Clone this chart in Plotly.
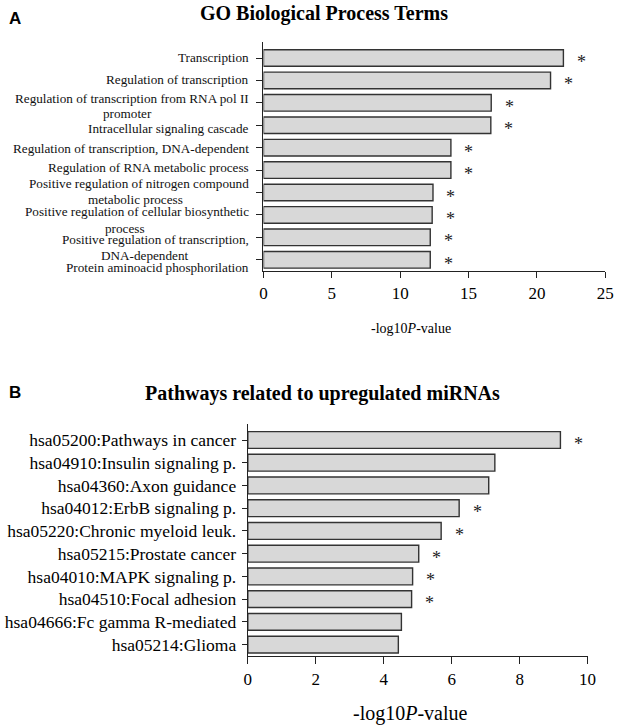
import plotly.graph_objects as go

# ---- Data: panel A (GO Biological Process Terms) ----
go_terms = [
    "Transcription",
    "Regulation of transcription",
    "Regulation of transcription from RNA pol II<br>promoter",
    "Intracellular signaling cascade",
    "Regulation of transcription, DNA-dependent",
    "Regulation of RNA metabolic process",
    "Positive regulation of nitrogen compound<br>metabolic process",
    "Positive regulation of cellular biosynthetic<br>process",
    "Positive regulation of transcription,<br>DNA-dependent",
    "Protein aminoacid phosphorilation",
]
go_values = [21.94, 21.0, 16.66, 16.63, 13.71, 13.71, 12.4, 12.34, 12.2, 12.2]
go_signif = [True] * 10
go_ticks = [0, 5, 10, 15, 20, 25]

# ---- Data: panel B (Pathways related to upregulated miRNAs) ----
kegg_terms = [
    "hsa05200:Pathways in cancer",
    "hsa04910:Insulin signaling p.",
    "hsa04360:Axon guidance",
    "hsa04012:ErbB signaling p.",
    "hsa05220:Chronic myeloid leuk.",
    "hsa05215:Prostate cancer",
    "hsa04010:MAPK signaling p.",
    "hsa04510:Focal adhesion",
    "hsa04666:Fc gamma R-mediated",
    "hsa05214:Glioma",
]
kegg_values = [9.2, 7.27, 7.09, 6.22, 5.69, 5.03, 4.85, 4.82, 4.52, 4.43]
kegg_signif = [True, False, False, True, True, True, True, True, False, False]
kegg_ticks = [0, 2, 4, 6, 8, 10]

# ---- layout / style (pixel geometry of the page) ----
W, H = 625, 727
SERIF = "Liberation Serif, Times New Roman, serif"
SANS = "Liberation Sans, Arial, sans-serif"
BAR_FILL = "#d8d8d8"
BAR_LINE = "#333333"
# vertical placement (px below the tick) of each text line of the panel-A labels
go_line_offsets = [[0], [-1], [-4, 11], [3], [1], [-3], [-9, 7], [-3, 14], [2, 18], [8]]


def px_x(x):
    return x / W


def px_y(y):
    return 1 - y / H


fig = go.Figure()

fig.add_trace(go.Bar(
    x=go_values, y=go_terms, orientation="h",
    marker=dict(color=BAR_FILL, line=dict(color=BAR_LINE, width=1.4)),
    width=0.74, xaxis="x", yaxis="y", showlegend=False, hoverinfo="x+y",
))
fig.add_trace(go.Bar(
    x=kegg_values, y=kegg_terms, orientation="h",
    marker=dict(color=BAR_FILL, line=dict(color=BAR_LINE, width=1.4)),
    width=0.74, xaxis="x2", yaxis="y2", showlegend=False, hoverinfo="x+y",
))

annotations = []
# category labels of panel A: each line centred on the first line's centre
LABEL_RIGHT = 252
for term, offs in zip(go_terms, go_line_offsets):
    lines = term.split("<br>")
    for i, (line, dy) in enumerate(zip(lines, offs)):
        if i == 0:
            annotations.append(dict(x=px_x(LABEL_RIGHT), y=term, xref="paper", yref="y",
                                    text=line, showarrow=False, xanchor="right",
                                    yanchor="middle", yshift=-dy,
                                    font=dict(family=SERIF, size=13.2, color="#111")))
        else:
            # centre continuation line under the first line
            first_len = len(lines[0])
            # approximate centre of the first line using its character count
            centre = LABEL_RIGHT - first_len * 13.2 * 0.222
            annotations.append(dict(x=px_x(centre), y=term, xref="paper", yref="y",
                                    text=line, showarrow=False, xanchor="center",
                                    yanchor="middle", yshift=-dy,
                                    font=dict(family=SERIF, size=13.2, color="#111")))

# significance stars
for term, v, s in zip(go_terms, go_values, go_signif):
    if s:
        annotations.append(dict(x=v, y=term, xref="x", yref="y", text="*",
                                showarrow=False, xanchor="center", xshift=18, yshift=-4,
                                font=dict(family=SERIF, size=18, color="#222")))
for term, v, s in zip(kegg_terms, kegg_values, kegg_signif):
    if s:
        annotations.append(dict(x=v, y=term, xref="x2", yref="y2", text="*",
                                showarrow=False, xanchor="center", xshift=18, yshift=-4,
                                font=dict(family=SERIF, size=18, color="#222")))

# panel letters, titles, axis titles
annotations += [
    dict(x=px_x(3), y=px_y(18), xref="paper", yref="paper", text="<b>A</b>",
         showarrow=False, xanchor="left", yanchor="middle",
         font=dict(family=SANS, size=17, color="black")),
    dict(x=px_x(327), y=px_y(13), xref="paper", yref="paper",
         text="<b>GO Biological Process Terms</b>", showarrow=False,
         xanchor="center", yanchor="middle",
         font=dict(family=SERIF, size=20, color="black")),
    dict(x=px_x(416), y=px_y(328), xref="paper", yref="paper",
         text="-log10<i>P</i>-value", showarrow=False,
         xanchor="center", yanchor="middle",
         font=dict(family=SERIF, size=14, color="black")),
    dict(x=px_x(3), y=px_y(392), xref="paper", yref="paper", text="<b>B</b>",
         showarrow=False, xanchor="left", yanchor="middle",
         font=dict(family=SANS, size=17, color="black")),
    dict(x=px_x(325), y=px_y(393), xref="paper", yref="paper",
         text="<b>Pathways related to upregulated miRNAs</b>", showarrow=False,
         xanchor="center", yanchor="middle",
         font=dict(family=SERIF, size=20, color="black")),
    dict(x=px_x(415), y=px_y(713), xref="paper", yref="paper",
         text="-log10<i>P</i>-value", showarrow=False,
         xanchor="center", yanchor="middle",
         font=dict(family=SERIF, size=20, color="black")),
]

axis_common = dict(showline=True, linecolor="#222", linewidth=1.3,
                   ticks="outside", tickcolor="#222", tickwidth=1.2,
                   showgrid=False, zeroline=False)

fig.update_layout(
    width=W, height=H,
    margin=dict(l=0, r=0, t=0, b=0),
    paper_bgcolor="white", plot_bgcolor="white",
    xaxis=dict(domain=[px_x(265), px_x(614)], anchor="y", range=[0, 25],
               tickvals=go_ticks, ticklen=6, **axis_common,
               tickfont=dict(family=SERIF, size=17, color="black")),
    yaxis=dict(domain=[px_y(271), px_y(42)], anchor="x", autorange="reversed",
               ticklen=6, showticklabels=False, **axis_common),
    xaxis2=dict(domain=[px_x(249), px_x(596)], anchor="y2", range=[0, 10],
                tickvals=kegg_ticks, ticklen=7, **axis_common,
                tickfont=dict(family=SERIF, size=17, color="black")),
    yaxis2=dict(domain=[px_y(656), px_y(424)], anchor="x2", autorange="reversed",
                ticklen=5, ticklabelstandoff=2, **axis_common,
                tickfont=dict(family=SERIF, size=17.5, color="black")),
    annotations=annotations,
)

fig.write_html("out.html", config={"displayModeBar": False},
               post_script="document.body.style.margin='0';")
